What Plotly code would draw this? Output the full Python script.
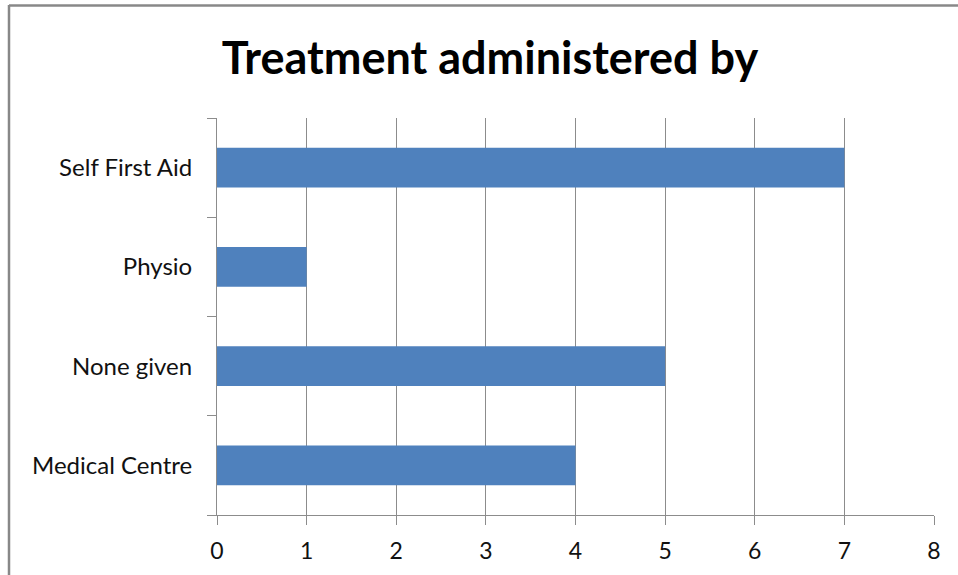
import plotly.graph_objects as go

categories = ["Medical Centre", "None given", "Physio", "Self First Aid"]
values = [4, 5, 1, 7]
x_ticks = [0, 1, 2, 3, 4, 5, 6, 7, 8]

W, H = 958, 575
L, R, T, B = 217, 24, 118, 60
pw, ph = W - L - R, H - T - B

def px_x(x):
    return (x - L) / pw

def px_y(y):
    return (H - B - y) / ph

fig = go.Figure(go.Bar(
    x=values, y=categories, orientation="h",
    marker=dict(color="#4F81BD", line=dict(width=0)),
    width=0.4,
))

grid = "#8c8c8c"
fig.update_layout(
    width=W, height=H,
    margin=dict(l=L, r=R, t=T, b=B),
    paper_bgcolor="white", plot_bgcolor="white",
    showlegend=False,
    font=dict(family="Lato, Calibri, sans-serif", size=24, color="#111111"),
    title=dict(text="<b>Treatment administered by</b>", x=490 / W, xanchor="center",
               y=1 - 58 / H, yanchor="middle",
               font=dict(family="Lato, sans-serif", size=45, color="black")),
    xaxis=dict(range=[0, 8], tickvals=x_ticks, showgrid=True, gridcolor=grid, gridwidth=1,
               zeroline=False, showline=True, linecolor=grid, linewidth=1,
               ticks="outside", ticklen=9, tickcolor=grid, tickfont=dict(size=23),
               ticklabelstandoff=6),
    yaxis=dict(showgrid=False, zeroline=False, showline=True, linecolor=grid, linewidth=1,
               ticks="outside", ticklen=9, tickcolor=grid, tickson="boundaries",
               ticklabelstandoff=19, tickfont=dict(size=24)),
    shapes=[
        dict(type="line", xref="paper", yref="paper", x0=px_x(9), x1=px_x(9),
             y0=px_y(5), y1=px_y(H + 5), line=dict(color="#888888", width=2.5)),
        dict(type="line", xref="paper", yref="paper", x0=px_x(9), x1=px_x(W + 5),
             y0=px_y(5.5), y1=px_y(5.5), line=dict(color="#888888", width=2.5)),
    ],
)

fig.write_html("out.html")
